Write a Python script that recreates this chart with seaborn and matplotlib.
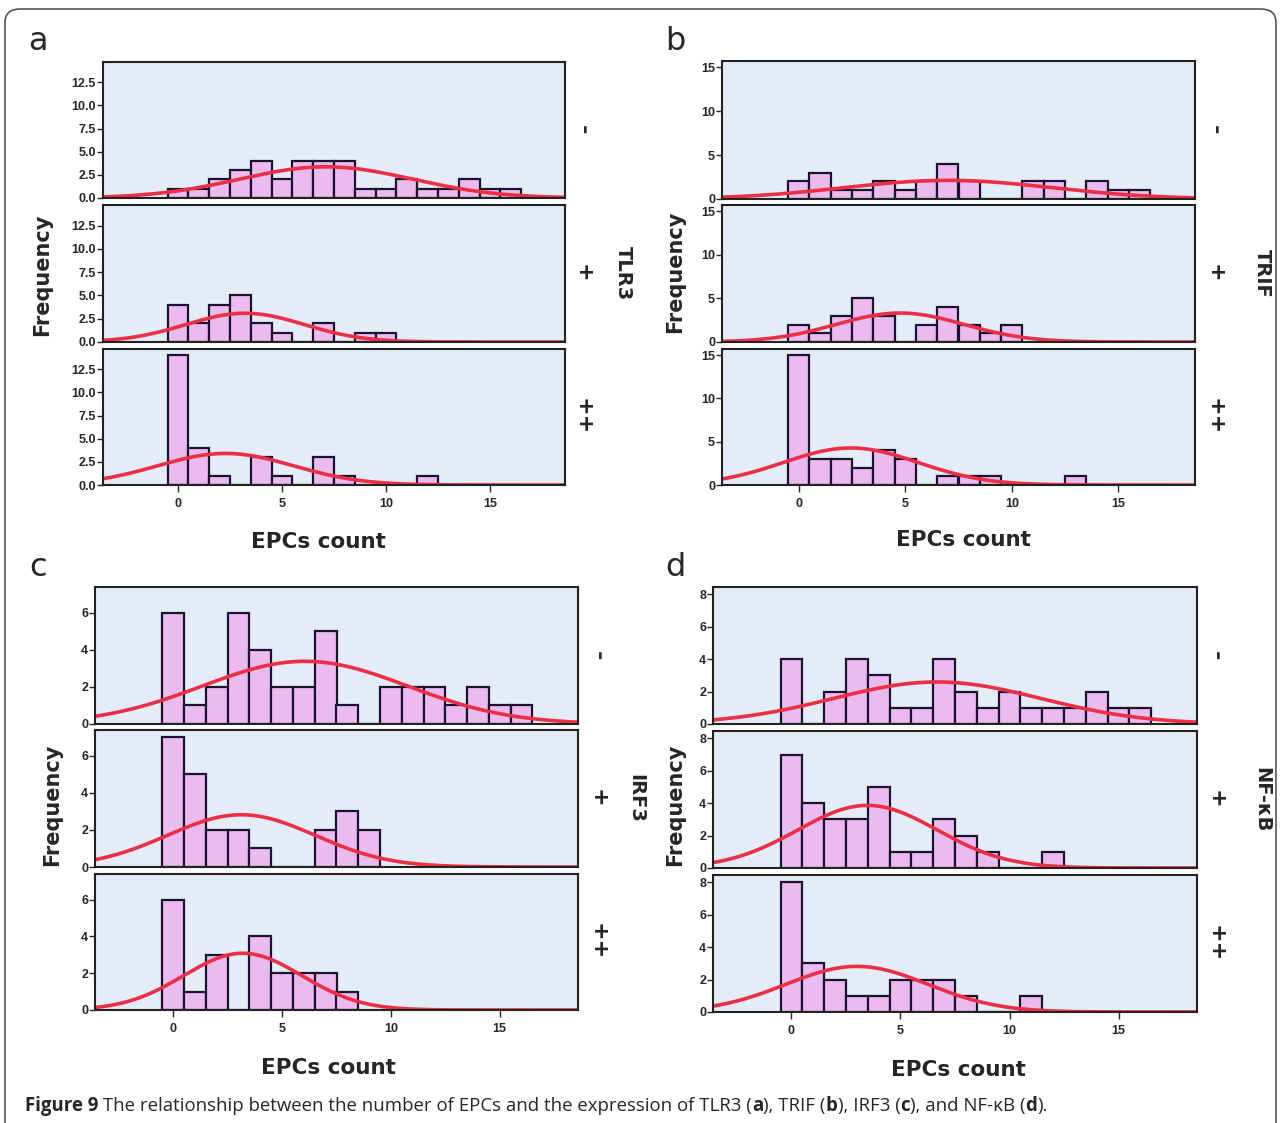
import numpy as np
import pandas as pd
import matplotlib
matplotlib.use("Agg")
import matplotlib.pyplot as plt
import seaborn as sns
from matplotlib.patches import FancyBboxPatch

# bin centres (EPCs count) and frequencies
bins = list(range(17))

tlr3_neg = [1, 1, 2, 3, 4, 2, 4, 4, 4, 1, 1, 2, 1, 1, 2, 1, 1]
tlr3_pos = [4, 2, 4, 5, 2, 1, 0, 2, 0, 1, 1, 0, 0, 0, 0, 0, 0]
tlr3_pp = [14, 4, 1, 0, 3, 1, 0, 3, 1, 0, 0, 0, 1, 0, 0, 0, 0]

trif_neg = [2, 3, 1, 1, 2, 1, 2, 4, 2, 0, 0, 2, 2, 0, 2, 1, 1]
trif_pos = [2, 1, 3, 5, 3, 0, 2, 4, 2, 1, 2, 0, 0, 0, 0, 0, 0]
trif_pp = [15, 3, 3, 2, 4, 3, 0, 1, 1, 1, 0, 0, 0, 1, 0, 0, 0]

irf3_neg = [6, 1, 2, 6, 4, 2, 2, 5, 1, 0, 2, 2, 2, 1, 2, 1, 1]
irf3_pos = [7, 5, 2, 2, 1, 0, 0, 2, 3, 2, 0, 0, 0, 0, 0, 0, 0]
irf3_pp = [6, 1, 3, 0, 4, 2, 2, 2, 1, 0, 0, 0, 0, 0, 0, 0, 0]

nfkb_neg = [4, 0, 2, 4, 3, 1, 1, 4, 2, 1, 2, 1, 1, 1, 2, 1, 1]
nfkb_pos = [7, 4, 3, 3, 5, 1, 1, 3, 2, 1, 0, 0, 1, 0, 0, 0, 0]
nfkb_pp = [8, 3, 2, 1, 1, 2, 2, 2, 1, 0, 0, 1, 0, 0, 0, 0, 0]

row_labels = ["-", "+", "++"]
x_ticks = [0, 5, 10, 15]

W, H = 1282, 1123
BG = "#e4ecf8"
BAR = "#ebbbef"
CURVE = "#ec2f45"

sns.set_style("white")
plt.rcParams["font.family"] = ["DejaVu Sans"]

fig = plt.figure(figsize=(W / 100, H / 100), dpi=100)


def px_axes(left, top, right, bottom):
    return fig.add_axes([left / W, 1 - bottom / H, (right - left) / W, (bottom - top) / H])


def draw_row(ax, counts, ylim, yticks, yfmt, last):
    df = pd.DataFrame({"epcs": bins, "n": counts})
    df = df[df["n"] > 0]
    sns.histplot(data=df, x="epcs", weights="n", discrete=True, ax=ax,
                 color=BAR, edgecolor="#1b1230", linewidth=1.6, alpha=1)
    # fitted normal curve (SPSS style): N * binwidth * pdf
    x = np.array(bins, dtype=float)
    f = np.array(counts, dtype=float)
    n = f.sum()
    mu = (x * f).sum() / n
    sd = np.sqrt(((x - mu) ** 2 * f).sum() / (n - 1))
    xs = np.linspace(-3.6, 18.6, 300)
    ys = n * np.exp(-0.5 * ((xs - mu) / sd) ** 2) / (sd * np.sqrt(2 * np.pi))
    sns.lineplot(x=xs, y=ys, ax=ax, color=CURVE, linewidth=2.6)
    ax.set_facecolor(BG)
    ax.set_xlim(-3.6, 18.6)
    ax.set_ylim(0, ylim)
    ax.set_yticks(yticks)
    ax.set_yticklabels([yfmt.format(t) for t in yticks], fontweight="bold",
                       fontsize=9, family="Liberation Sans")
    ax.tick_params(axis="y", direction="out", length=4, width=1, pad=1, left=True)
    ax.set_xlabel("")
    ax.set_ylabel("")
    if last:
        ax.set_xticks(x_ticks)
        ax.set_xticklabels([str(t) for t in x_ticks], fontweight="bold",
                           fontsize=9, family="Liberation Sans")
        ax.tick_params(axis="x", direction="out", length=5, width=1, pad=4, bottom=True)
    else:
        ax.set_xticks([])
    for s in ax.spines.values():
        s.set_color("#222222")
        s.set_linewidth(1.5)


panels = [
    dict(letter="a", name="TLR3", data=[tlr3_neg, tlr3_pos, tlr3_pp],
         left=103, right=565, rows=[(62, 198), (205, 342), (349, 485)],
         ylim=14.7, yticks=[0, 2.5, 5, 7.5, 10, 12.5], fmt="{:.1f}",
         letter_xy=(38, 42), freq_xy=(42, 275), xlab_xy=(318, 542),
         sign_x=583, name_x=623),
    dict(letter="b", name="TRIF", data=[trif_neg, trif_pos, trif_pp],
         left=722, right=1195, rows=[(61, 199), (205, 342), (349, 485)],
         ylim=15.7, yticks=[0, 5, 10, 15], fmt="{:.0f}",
         letter_xy=(675, 42), freq_xy=(675, 272), xlab_xy=(963, 540),
         sign_x=1215, name_x=1262),
    dict(letter="c", name="IRF3", data=[irf3_neg, irf3_pos, irf3_pp],
         left=95, right=578, rows=[(587, 724), (730, 867), (874, 1010)],
         ylim=7.4, yticks=[0, 2, 4, 6], fmt="{:.0f}",
         letter_xy=(38, 568), freq_xy=(52, 805), xlab_xy=(328, 1068),
         sign_x=598, name_x=636),
    dict(letter="d", name="NF-κB", data=[nfkb_neg, nfkb_pos, nfkb_pp],
         left=713, right=1197, rows=[(587, 724), (731, 868), (875, 1012)],
         ylim=8.45, yticks=[0, 2, 4, 6, 8], fmt="{:.0f}",
         letter_xy=(675, 568), freq_xy=(675, 805), xlab_xy=(958, 1070),
         sign_x=1216, name_x=1262),
]

for p in panels:
    for i, (top, bottom) in enumerate(p["rows"]):
        ax = px_axes(p["left"], top, p["right"], bottom)
        draw_row(ax, p["data"][i], p["ylim"], p["yticks"], p["fmt"], i == 2)
        fig.text(p["sign_x"] / W, 1 - (top + bottom) / 2 / H, row_labels[i],
                 rotation=270, ha="center", va="center", fontsize=16, fontweight="bold")
    mid = (p["rows"][0][0] + p["rows"][2][1]) / 2
    fig.text(p["name_x"] / W, 1 - mid / H, p["name"], rotation=270,
             ha="center", va="center", fontsize=14, fontweight="bold")
    fig.text(p["letter_xy"][0] / W, 1 - p["letter_xy"][1] / H, p["letter"],
             ha="center", va="center", fontsize=23)
    fig.text(p["freq_xy"][0] / W, 1 - p["freq_xy"][1] / H, "Frequency",
             rotation=90, ha="center", va="center", fontsize=15, fontweight="bold")
    fig.text(p["xlab_xy"][0] / W, 1 - p["xlab_xy"][1] / H, "EPCs count",
             ha="center", va="center", fontsize=15.5, fontweight="bold")

# caption with mixed bold / regular pieces
caption = [("Figure 9", "bold"),
           (" The relationship between the number of EPCs and the expression of TLR3 (", "normal"),
           ("a", "bold"), ("), TRIF (", "normal"), ("b", "bold"), ("), IRF3 (", "normal"),
           ("c", "bold"), ("), and NF-κB (", "normal"), ("d", "bold"), (").", "normal")]
renderer = fig.canvas.get_renderer()
xpos = 25
for txt, wt in caption:
    t = fig.text(xpos / W, 1 - 1106 / H, txt, ha="left", va="center",
                 fontsize=13.4, fontweight=wt, family="Open Sans")
    xpos += t.get_window_extent(renderer).width

frame = FancyBboxPatch((5 / W, -0.02), 1271 / W, 1.02 - 9 / H,
                       boxstyle="round,pad=0,rounding_size=0.012",
                       transform=fig.transFigure, fill=False,
                       edgecolor="#555555", linewidth=1.2)
fig.patches.append(frame)

fig.savefig("out.png", dpi=100)
